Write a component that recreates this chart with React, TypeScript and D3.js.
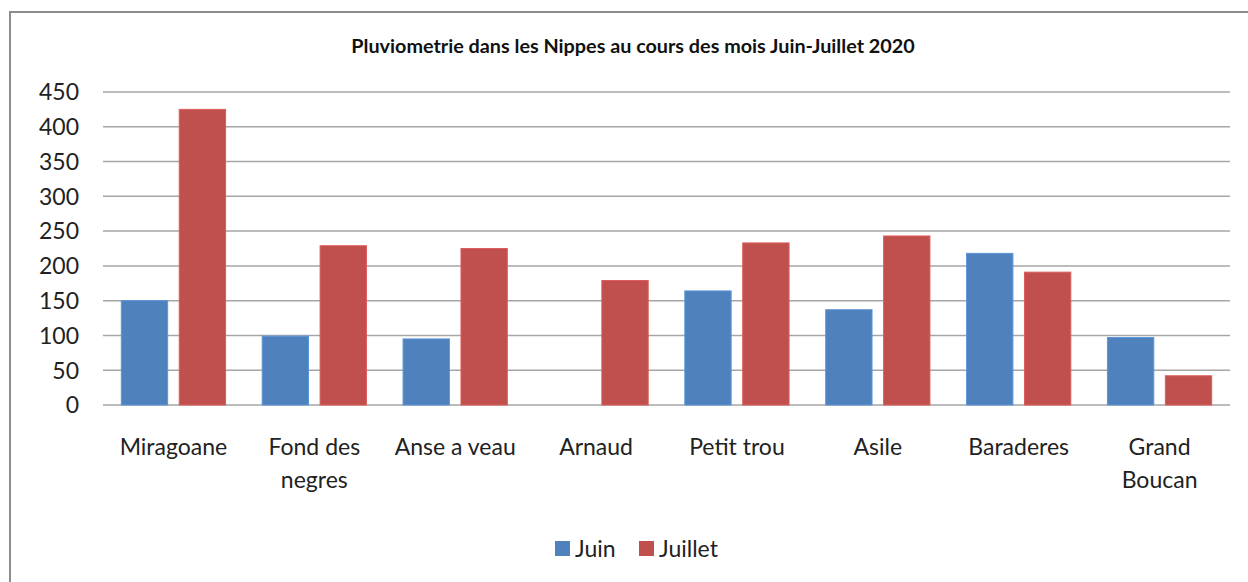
import React, { useEffect, useRef } from "react";
import * as d3 from "d3";

const categories = [
  "Miragoane",
  "Fond des\nnegres",
  "Anse a veau",
  "Arnaud",
  "Petit trou",
  "Asile",
  "Baraderes",
  "Grand\nBoucan",
];
const series = ["Juin", "Juillet"];
const juin = [150, 99, 95, 0, 164, 137, 218, 97];
const juillet = [425, 229, 225, 179, 233, 243, 191, 42];
const yTicks = [0, 50, 100, 150, 200, 250, 300, 350, 400, 450];
const colors = ["#4F81BD", "#C0504D"];
const title = "Pluviometrie dans les Nippes au cours des mois Juin-Juillet 2020";

export default function App() {
  const svgRef = useRef<SVGSVGElement>(null);
  const width = 1248;
  const height = 582;

  useEffect(() => {
    const svg = d3.select(svgRef.current);
    svg.selectAll("*").remove();
    const font = "Lato, 'Noto Sans', sans-serif";

    // chart frame
    svg
      .append("rect")
      .attr("x", 10)
      .attr("y", 12)
      .attr("width", 1260)
      .attr("height", 600)
      .attr("fill", "white")
      .attr("stroke", "#8c8c8c")
      .attr("stroke-width", 2);

    svg
      .append("text")
      .attr("x", 633)
      .attr("y", 53)
      .attr("text-anchor", "middle")
      .attr("font-family", font)
      .attr("font-weight", "bold")
      .attr("font-size", 19.8)
      .attr("fill", "#111")
      .text(title);

    const x0 = d3.scaleBand().domain(categories).range([103, 1230]);
    const step = x0.bandwidth();
    const x1 = d3
      .scaleBand()
      .domain(series)
      .range([step * 0.13, step * 0.87])
      .paddingInner(0.2);
    const y = d3.scaleLinear().domain([0, 450]).range([405, 92]);

    //gridlines
    svg
      .append("g")
      .selectAll("line")
      .data(yTicks)
      .join("line")
      .attr("x1", 103)
      .attr("x2", 1230)
      .attr("y1", (d) => y(d))
      .attr("y2", (d) => y(d))
      .attr("stroke", "#a6a6a6")
      .attr("stroke-width", 1.5);

    svg
      .append("g")
      .selectAll("text")
      .data(yTicks)
      .join("text")
      .attr("x", 79)
      .attr("y", (d) => y(d))
      .attr("dy", "0.36em")
      .attr("text-anchor", "end")
      .attr("font-family", font)
      .attr("font-size", 23)
      .attr("fill", "#222")
      .text((d) => d);

    const values = [juin, juillet];
    const group = svg
      .append("g")
      .selectAll("g")
      .data(categories)
      .join("g")
      .attr("transform", (d) => `translate(${x0(d)},0)`);

    group
      .selectAll("rect")
      .data((d, i) => series.map((s, j) => ({ s, j, v: values[j][i] })))
      .join("rect")
      .filter((d) => d.v > 0)
      .attr("x", (d) => x1(d.s)!)
      .attr("y", (d) => y(d.v))
      .attr("width", x1.bandwidth())
      .attr("height", (d) => y(0) - y(d.v))
      .attr("fill", (d) => colors[d.j])
      .attr("stroke", (d) => d3.color(colors[d.j])!.brighter(0.4).toString())
      .attr("stroke-width", 1);

    //category labels, split on newline
    group
      .append("text")
      .attr("text-anchor", "middle")
      .attr("font-family", font)
      .attr("font-size", 23)
      .attr("fill", "#222")
      .selectAll("tspan")
      .data((d) => d.split("\n"))
      .join("tspan")
      .attr("x", step / 2)
      .attr("y", (d, i) => 455 + i * 33)
      .text((d) => d);

    //legend
    const legend = svg
      .append("g")
      .selectAll("g")
      .data(series)
      .join("g")
      .attr("transform", (d, i) => `translate(${555 + i * 84},0)`);
    legend
      .append("rect")
      .attr("x", 0)
      .attr("y", 541)
      .attr("width", 15)
      .attr("height", 15)
      .attr("fill", (d, i) => colors[i]);
    legend
      .append("text")
      .attr("x", 20)
      .attr("y", 557)
      .attr("font-family", font)
      .attr("font-size", 23)
      .attr("fill", "#222")
      .text((d) => d);
  }, []);

  return (
    <svg
      ref={svgRef}
      width={width}
      height={height}
      style={{ position: "absolute", left: 0, top: 0 }}
    ></svg>
  );
}
